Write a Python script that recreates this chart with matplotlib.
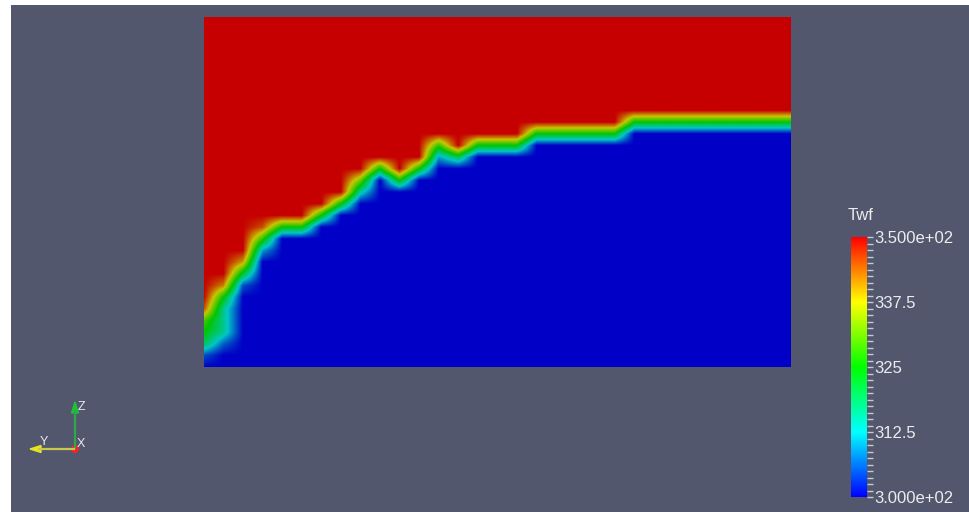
import numpy as np
import matplotlib
matplotlib.use("Agg")
import matplotlib.pyplot as plt
from matplotlib.colors import LinearSegmentedColormap, Normalize
from matplotlib.patches import Polygon, Circle
from matplotlib.cm import ScalarMappable

plt.rcParams["font.family"] = ["Liberation Sans", "DejaVu Sans"]

# ---- Twf field on a 31 x 31 node cross-section ----
n_cols = 31
n_rows = 31
t_cold = 300.0
t_hot = 350.0
# first node row (counted from the bottom) inside the thermal front, per node column
front_lo = [1, 2, 7, 10, 12, 12, 13, 14, 15, 17, 16, 17, 18, 18, 19, 19, 19,
            20, 20, 20, 20, 20, 21, 21, 21, 21, 21, 21, 21, 21, 21]
# temperatures of the front nodes, upwards from front_lo (colder below, hotter above)
front_vals = [
    [305, 320, 325, 330, 345],
    [306, 316, 316, 316, 325, 342],
    [305, 322, 340],
    [310, 328, 345],
    [325], [325], [325], [325],
    [315, 332],
    [325], [325], [325],
    [310, 328],
    [320],
    [325], [325], [325], [325], [325], [325], [325], [325], [325],
    [325], [325], [325], [325], [325], [325], [325], [325], [325],
]

# colour bar
cbar_title = "Twf"
cbar_ticks = [300.0, 312.5, 325.0, 337.5, 350.0]
cbar_labels = ["3.000e+02", "312.5", "325", "337.5", "3.500e+02"]
cbar_minor_step = 1.25

# ---- figure ----
W, H = 969, 512
fig = plt.figure(figsize=(W / 100, H / 100), dpi=100, facecolor="white")
bg = "#52576e"


def px_axes(x0, y0, x1, y1):
    return fig.add_axes([x0 / W, 1 - y1 / H, (x1 - x0) / W, (y1 - y0) / H])


# render-window background (white strip on the top and left edges)
bax = px_axes(11, 5, W, H)
bax.set_facecolor(bg)
bax.set_xticks([])
bax.set_yticks([])
for s in bax.spines.values():
    s.set_visible(False)

stops = [(0.0, (0, 0, 1)), (0.25, (0, 1, 1)), (0.5, (0, 1, 0)),
         (0.75, (1, 1, 0)), (1.0, (1, 0, 0))]
cmap_full = LinearSegmentedColormap.from_list("twf", stops, N=512)
shade = 0.78
cmap_lit = LinearSegmentedColormap.from_list(
    "twf_lit", [(p, tuple(shade * c for c in col)) for p, col in stops], N=512)
norm = Normalize(t_cold, t_hot)

T = np.full((n_rows, n_cols), t_hot)
for i in range(n_cols):
    lo = front_lo[i]
    vals = front_vals[i]
    T[:lo, i] = t_cold
    T[lo:lo + len(vals), i] = vals

ax = px_axes(204, 17, 790.7, 367)
# node values are interpolated as scalars, then mapped through the colour table
ax.imshow(T, origin="lower", cmap=cmap_lit, norm=norm, aspect="auto",
          interpolation="bilinear", interpolation_stage="data",
          extent=(-0.5, n_cols - 0.5, -0.5, n_rows - 0.5))
ax.set_xlim(0, n_cols - 1)
ax.set_ylim(0, n_rows - 1)
ax.axis("off")

# ---- colour bar ----
cax = px_axes(851, 237, 866.5, 497)
cb = fig.colorbar(ScalarMappable(norm=norm, cmap=cmap_full), cax=cax)
cb.outline.set_visible(False)
cax.set_yticks(cbar_ticks)
cax.set_yticklabels(cbar_labels)
cax.set_yticks(np.arange(t_cold, t_hot + 1e-6, cbar_minor_step), minor=True)
cax.tick_params(axis="y", which="both", direction="out", length=4.5, width=1,
                color="#c9c9cf", labelcolor="#ececec", labelsize=12, pad=1)
fig.text(848 / W, 1 - 215 / H, cbar_title, color="#ececec", fontsize=12,
         ha="left", va="center")

# ---- orientation glyph ----
ov = fig.add_axes([0, 0, 1, 1])
ov.set_xlim(0, W)
ov.set_ylim(H, 0)
ov.axis("off")
ox, oy = 75, 449
ov.plot([ox, ox], [oy, 410], color="#2fa84a", lw=1.6, solid_capstyle="butt")
ov.add_patch(Polygon([[ox, 402], [ox - 3.5, 413], [ox + 3.5, 413]],
                     closed=True, color="#1fc03a"))
ov.plot([ox, 38], [oy, oy], color="#c8c850", lw=1.6, solid_capstyle="butt")
ov.add_patch(Polygon([[30, oy], [41, oy - 3.5], [41, oy + 3.5]],
                     closed=True, color="#e6e61e"))
ov.add_patch(Circle((ox, oy), 3.2, color="#ff2020"))
ov.text(78, 407, "Z", color="#e8e8e8", fontsize=9, ha="left", va="center")
ov.text(40, 442, "Y", color="#e8e8e8", fontsize=9, ha="left", va="center")
ov.text(77, 444, "X", color="#e8e8e8", fontsize=9, ha="left", va="center")

fig.savefig("out.png", dpi=100, facecolor="white")
